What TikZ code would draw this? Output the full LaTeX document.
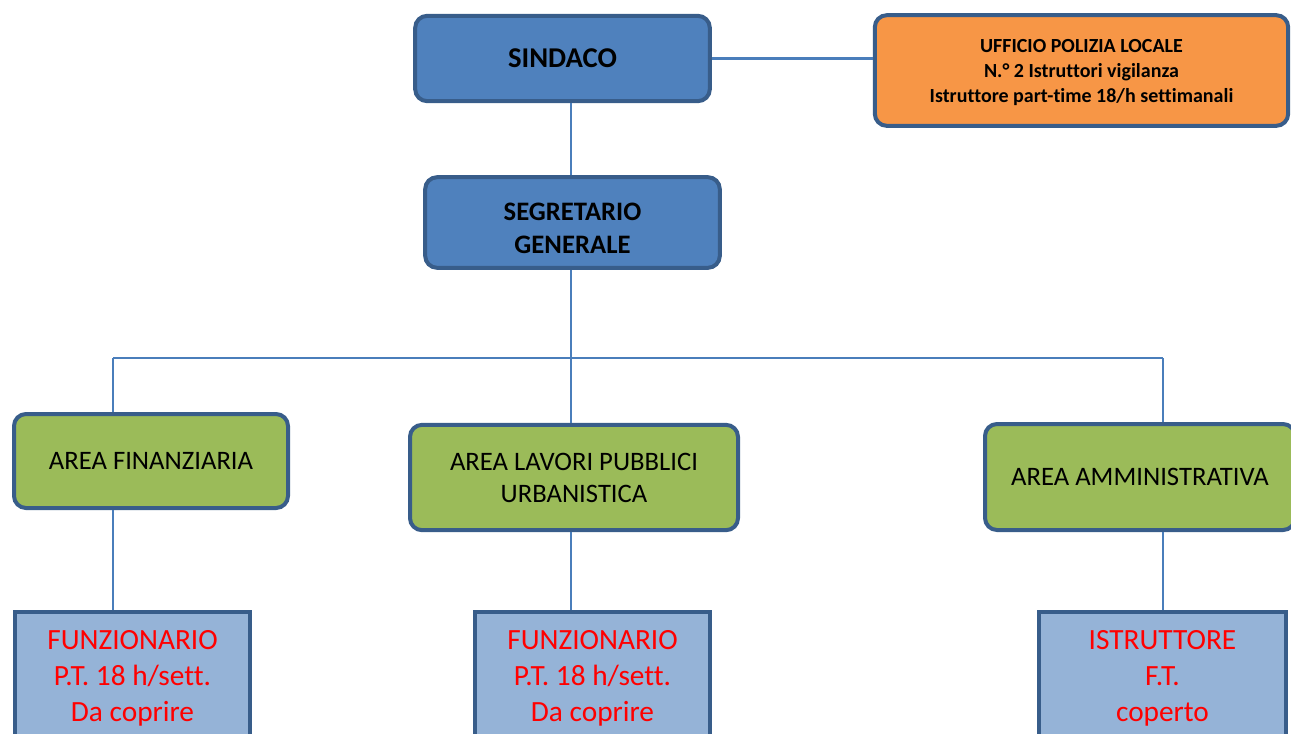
\documentclass[tikz,border=0pt]{standalone}
\usepackage{fontspec}
\setmainfont{Carlito}[Ligatures=NoCommon]
\definecolor{blu}{HTML}{4F81BD}
\definecolor{bordo}{HTML}{385D8A}
\definecolor{verde}{HTML}{9BBB59}
\definecolor{arancio}{HTML}{F79646}
\definecolor{azzurro}{HTML}{95B3D7}
\definecolor{filo}{HTML}{4A7EBB}
\begin{document}
\begin{tikzpicture}[x=.75pt,y=-.75pt,
    capo/.style={draw=bordo, line width=3pt, fill=blu, rounded corners=9pt, align=center},
    area/.style={draw=bordo, line width=3pt, fill=verde, rounded corners=9pt, align=center,
      font=\fontsize{20}{24}\selectfont},
    posto/.style={draw=bordo, line width=3pt, fill=azzurro, text=red, align=center,
      minimum height=99pt, font=\fontsize{22}{27}\selectfont},
    filo/.style={draw=filo, line width=1.8pt}]
        \useasboundingbox (0,0) rectangle (1291,733);
        \node[capo, minimum width=221pt, minimum height=64pt, font=\bfseries\fontsize{21.5}{26}\selectfont] (sindaco) at (562.5,58.5) {SINDACO};
        \node[capo, minimum width=221pt, minimum height=68pt, font=\bfseries\fontsize{20}{24.75}\selectfont] (segretario) at (572.5,222.5) {\rule{0pt}{22pt}SEGRETARIO\\GENERALE};
        \node[capo, fill=arancio, minimum width=310pt, minimum height=83pt, font=\bfseries\fontsize{15}{18.75}\selectfont] (polizia) at (1081.5,70.5) {\rule{0pt}{13pt}UFFICIO POLIZIA LOCALE\\N.° 2 Istruttori vigilanza\\Istruttore part-time 18/h settimanali};
        \node[area, minimum width=205.5pt, minimum height=70.5pt] (finanza) at (151,461) {AREA FINANZIARIA};
        \node[area, minimum width=246pt, minimum height=79pt] (lavori) at (574,477.5) {AREA LAVORI PUBBLICI\\URBANISTICA};
        \node[area, minimum width=232.5pt, minimum height=79.5pt] (amministr) at (1140,477) {AREA AMMINISTRATIVA};
        \node[posto, minimum width=176pt] (funz1) at (132.5,678) {FUNZIONARIO\\P.T. 18 h/sett.\\Da coprire};
        \node[posto, minimum width=176pt] (funz2) at (592.5,678) {FUNZIONARIO\\P.T. 18 h/sett.\\Da coprire};
        \node[posto, minimum width=185pt] (istrutt) at (1162.5,678) {ISTRUTTORE\\F.T.\\coperto};
        % linee
        \coordinate (busL) at (113,358);
        \coordinate (busR) at (1163,358);
        \coordinate (asse) at (571,358);
        \draw[filo] (sindaco.east) -- (sindaco.east -| polizia.west);
        \draw[filo] (sindaco.south -| asse) -- (segretario.north -| asse);
        \draw[filo] (segretario.south -| asse) -- (lavori.north -| asse);
        \draw[filo] (busL) -- (busR);
        \draw[filo] (busL) -- (busL |- finanza.north);
        \draw[filo] (busR) -- (busR |- amministr.north);
        \draw[filo] (busL |- finanza.south) -- (busL |- funz1.north);
        \draw[filo] (asse |- lavori.south) -- (asse |- funz2.north);
        \draw[filo] (busR |- amministr.south) -- (busR |- istrutt.north);
\end{tikzpicture}
\end{document}
